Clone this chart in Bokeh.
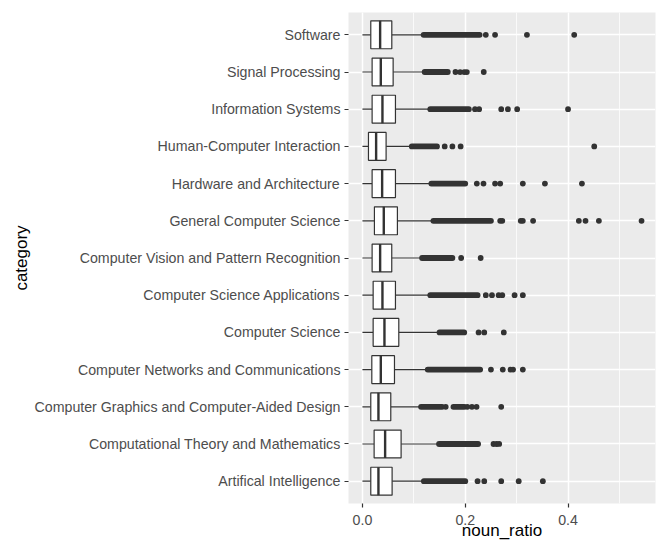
from bokeh.plotting import figure
from bokeh.models import (ColumnDataSource, FactorRange, Range1d, SingleIntervalTicker,
                          PrintfTickFormatter)
from bokeh.embed import file_html
from bokeh.resources import INLINE

# ---------------- data ----------------
categories = [
    "Artifical Intelligence",
    "Computational Theory and Mathematics",
    "Computer Graphics and Computer-Aided Design",
    "Computer Networks and Communications",
    "Computer Science",
    "Computer Science Applications",
    "Computer Vision and Pattern Recognition",
    "General Computer Science",
    "Hardware and Architecture",
    "Human-Computer Interaction",
    "Information Systems",
    "Signal Processing",
    "Software",
]
q1 = [0.0162, 0.0227, 0.0162, 0.0182, 0.0208, 0.0208, 0.0188, 0.0233, 0.0188, 0.0117, 0.0188, 0.0188, 0.0162]
median = [0.0311, 0.0441, 0.0311, 0.0357, 0.0428, 0.0389, 0.0344, 0.0415, 0.0383, 0.0266, 0.0389, 0.0357, 0.0344]
q3 = [0.0577, 0.0752, 0.0551, 0.0623, 0.0707, 0.0642, 0.0570, 0.0680, 0.0642, 0.0460, 0.0642, 0.0597, 0.0571]
whisker_lo = [0.0] * 13
whisker_hi = [0.117, 0.146, 0.111, 0.124, 0.147, 0.129, 0.113, 0.135, 0.131, 0.093, 0.129, 0.118, 0.116]

# dense runs of outliers (drawn as continuous bands of points)
band_category = [
    "Artifical Intelligence", "Computational Theory and Mathematics",
    "Computer Graphics and Computer-Aided Design", "Computer Graphics and Computer-Aided Design",
    "Computer Networks and Communications", "Computer Science",
    "Computer Science Applications", "Computer Vision and Pattern Recognition",
    "General Computer Science", "Hardware and Architecture",
    "Human-Computer Interaction", "Information Systems",
    "Signal Processing", "Software",
]
band_lo = [0.1195, 0.149, 0.114, 0.177, 0.127, 0.150, 0.132, 0.116, 0.138, 0.134, 0.096, 0.132, 0.121, 0.119]
band_hi = [0.200, 0.225, 0.155, 0.198, 0.229, 0.198, 0.224, 0.175, 0.250, 0.200, 0.145, 0.207, 0.166, 0.228]

# isolated outliers
outlier_category = (
    ["Artifical Intelligence"] * 5
    + ["Computational Theory and Mathematics"] * 3
    + ["Computer Graphics and Computer-Aided Design"] * 5
    + ["Computer Networks and Communications"] * 5
    + ["Computer Science"] * 3
    + ["Computer Science Applications"] * 6
    + ["Computer Vision and Pattern Recognition"] * 2
    + ["General Computer Science"] * 9
    + ["Hardware and Architecture"] * 7
    + ["Human-Computer Interaction"] * 4
    + ["Information Systems"] * 6
    + ["Signal Processing"] * 5
    + ["Software"] * 4
)
outlier_value = (
    [0.224, 0.237, 0.270, 0.304, 0.351]
    + [0.255, 0.261, 0.266]
    + [0.162, 0.204, 0.213, 0.222, 0.270]
    + [0.250, 0.273, 0.288, 0.293, 0.312]
    + [0.226, 0.237, 0.275]
    + [0.240, 0.252, 0.265, 0.272, 0.296, 0.312]
    + [0.192, 0.230]
    + [0.268, 0.272, 0.308, 0.312, 0.332, 0.421, 0.434, 0.460, 0.543]
    + [0.2225, 0.2355, 0.258, 0.268, 0.312, 0.355, 0.427]
    + [0.160, 0.175, 0.191, 0.451]
    + [0.219, 0.227, 0.270, 0.283, 0.301, 0.400]
    + [0.181, 0.190, 0.198, 0.203, 0.236]
    + [0.240, 0.258, 0.320, 0.412]
)

x_title = "noun_ratio"
y_title = "category"

# ---------------- styling ----------------
DARK = "#333333"
PANEL = "#EBEBEB"
FONT = "Liberation Sans"
BOX_H = 0.75

data_min = min(whisker_lo)
data_max = max(outlier_value)
span = data_max - data_min
x_range = Range1d(data_min - 0.05 * span, data_max + 0.05 * span)
y_range = FactorRange(factors=categories, range_padding=0.1, range_padding_units="absolute")

p = figure(width=661, height=544, x_range=x_range, y_range=y_range,
           output_backend="svg", toolbar_location=None,
           min_border_left=348, min_border_right=6, min_border_top=12, min_border_bottom=41)

p.background_fill_color = PANEL
p.border_fill_color = "white"
p.outline_line_color = None

box_src = ColumnDataSource(dict(
    cat=categories, q1=q1, med=median, q3=q3, wlo=whisker_lo, whi=whisker_hi,
    med_y0=[(c, -BOX_H / 2) for c in categories],
    med_y1=[(c, BOX_H / 2) for c in categories],
))

# whiskers
p.segment(x0="wlo", x1="q1", y0="cat", y1="cat", source=box_src, line_color=DARK, line_width=1.2)
p.segment(x0="q3", x1="whi", y0="cat", y1="cat", source=box_src, line_color=DARK, line_width=1.2)
# boxes
p.hbar(y="cat", left="q1", right="q3", height=BOX_H, source=box_src,
       fill_color="white", line_color=DARK, line_width=1.2)
# medians
p.segment(x0="med", x1="med", y0="med_y0", y1="med_y1", source=box_src,
          line_color=DARK, line_width=2.4)

# dense outlier bands
band_src = ColumnDataSource(dict(cat=band_category, lo=band_lo, hi=band_hi))
p.segment(x0="lo", x1="hi", y0="cat", y1="cat", source=band_src,
          line_color=DARK, line_width=5.8, line_cap="round")
# isolated outliers
out_src = ColumnDataSource(dict(cat=outlier_category, val=outlier_value))
p.scatter(x="val", y="cat", source=out_src, size=5.8, fill_color=DARK, line_color=None)

# axes
p.xaxis.ticker = SingleIntervalTicker(interval=0.2, num_minor_ticks=2)
p.xaxis.formatter = PrintfTickFormatter(format="%.1f")
for ax in (p.xaxis, p.yaxis):
    ax.axis_line_color = None
    ax.major_tick_line_color = DARK
    ax.major_tick_line_width = 1.2
    ax.major_tick_out = 4
    ax.major_tick_in = 0
    ax.minor_tick_line_color = None
    ax.major_label_text_color = "#4D4D4D"
    ax.major_label_text_font = FONT
    ax.major_label_text_font_size = "14.2px"
    ax.axis_label_text_font = FONT
    ax.axis_label_text_font_size = "17px"
    ax.axis_label_text_font_style = "normal"
    ax.axis_label_text_color = "black"
p.xaxis.major_label_standoff = 7
p.xaxis.axis_label_standoff = -7
p.yaxis.major_label_standoff = 4
p.yaxis.axis_label_standoff = 1
p.xaxis.axis_label = x_title
p.yaxis.axis_label = y_title

# grid
p.xgrid.grid_line_color = "white"
p.xgrid.grid_line_width = 1.5
p.xgrid.minor_grid_line_color = "white"
p.xgrid.minor_grid_line_width = 0.75
p.ygrid.grid_line_color = "white"
p.ygrid.grid_line_width = 1.5

open("out.html", "w").write(file_html(p, INLINE))
